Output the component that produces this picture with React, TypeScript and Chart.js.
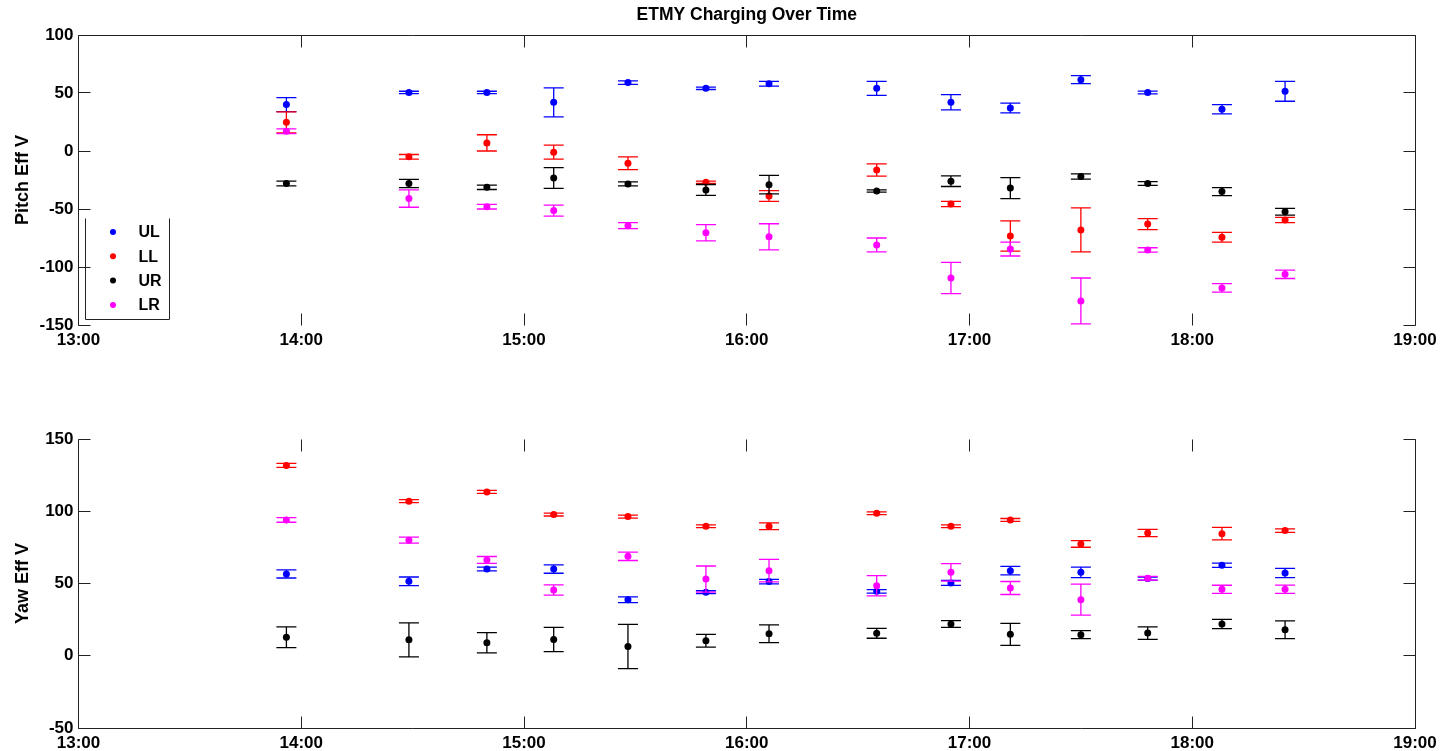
import React, { useEffect, useRef } from "react";
import { Chart, registerables } from "chart.js";

Chart.register(...registerables);

// ---------- data ----------
const times = ["13:56", "14:29", "14:50", "15:08", "15:28", "15:49", "16:06", "16:35", "16:55", "17:11", "17:30", "17:48", "18:08", "18:25"];

const seriesNames = ["UL", "LL", "UR", "LR"];
const seriesColors = ["#0000ff", "#ff0000", "#000000", "#ff00ff"];

const pitchUL = [40, 50.5, 50.5, 42, 59, 54, 58, 54, 42, 37, 61.5, 50.5, 36, 51.5];
const pitchULErr = [6, 1, 1, 12.5, 1.5, 1, 2, 6, 6.6, 4.2, 3.5, 1.2, 4, 8.6];
const pitchLL = [24.7, -5, 7, -1, -10.5, -27, -38.8, -16.4, -45.7, -73.3, -68, -63, -74.4, -59.5];
const pitchLLErr = [9, 2, 7, 6, 5.5, 1, 4.6, 5.3, 2.3, 13, 19, 4.7, 4.2, 2.3];
const pitchUR = [-28, -28, -31.3, -23.3, -28.4, -33.6, -29, -34.5, -26, -32, -22, -28, -35, -52.3];
const pitchURErr = [2, 3.6, 1.9, 9, 1.7, 4.7, 8, 1, 4.6, 9, 2.3, 1.6, 3.4, 2.9];
const pitchLR = [17, -41, -48, -51.4, -64.4, -70.4, -74, -81, -109.5, -84.5, -129.3, -85.3, -118, -106.3];
const pitchLRErr = [2, 7.5, 2, 4.7, 2.6, 7, 11.3, 6, 13.5, 6, 19.8, 1.9, 3.6, 3.6];

const yawUL = [56.6, 51.5, 60, 60, 38.8, 44, 51.3, 44.6, 50.4, 58.9, 57.7, 53.4, 62.6, 57.3];
const yawULErr = [2.8, 3, 1.3, 2.9, 2, 1, 1.5, 1.2, 1.7, 2.9, 3.7, 1, 1.5, 3.2];
const yawLL = [131.7, 107, 113.4, 97.7, 96.3, 89.6, 89.6, 98.6, 89.6, 94, 77.4, 85, 84.5, 86.6];
const yawLLErr = [1.4, 1, 1, 1, 1, 1, 2.3, 1, 1, 1, 2.3, 2.5, 4.3, 1.2];
const yawUR = [12.8, 11, 9, 11.2, 6.4, 10.4, 15.2, 15.5, 22, 14.8, 14.6, 15.7, 22, 18];
const yawURErr = [7.2, 11.8, 7, 8.4, 15.3, 4.4, 6.1, 3.4, 2.3, 7.6, 2.8, 4.3, 3.2, 6.1];
const yawLR = [94, 80, 66.3, 45.5, 68.8, 53.1, 58.9, 48.5, 57.7, 46.9, 38.8, 53.6, 46, 46];
const yawLRErr = [1.6, 2.1, 2.4, 3.5, 2.9, 9, 7.8, 7, 6, 4.5, 10.7, 1.3, 2.8, 2.9];

const xMin = 13;
const xMax = 19;
const pitchRange = [-150, 100];
const yawRange = [-50, 150];

const chartTitle = "ETMY Charging Over Time";
const pitchLabel = "Pitch Eff V";
const yawLabel = "Yaw Eff V";

// ---------- helpers ----------
const FONT = "'Liberation Sans', Helvetica, Arial, sans-serif";
const toHours = (s: string) => {
  const [h, m] = s.split(":").map(Number);
  return h + m / 60;
};
const hourLabel = (v: number) => `${v}:00`;

const errorBarPlugin = {
  id: "errorBars",
  beforeDatasetDraw(chart: any, args: any) {
    const ds = chart.data.datasets[args.index];
    const errs: number[] = ds.errors;
    if (!errs) return;
    const yScale = chart.scales.y;
    const ctx = chart.ctx;
    ctx.save();
    ctx.strokeStyle = ds.backgroundColor;
    ctx.lineWidth = 1.3;
    const cap = 10;
    args.meta.data.forEach((pt: any, i: number) => {
      const v = ds.data[i].y;
      const e = errs[i];
      const x = pt.x;
      const yTop = yScale.getPixelForValue(v + e);
      const yBot = yScale.getPixelForValue(v - e);
      ctx.beginPath();
      ctx.moveTo(x, yTop);
      ctx.lineTo(x, yBot);
      ctx.moveTo(x - cap, yTop);
      ctx.lineTo(x + cap, yTop);
      ctx.moveTo(x - cap, yBot);
      ctx.lineTo(x + cap, yBot);
      ctx.stroke();
    });
    ctx.restore();
  },
};

const framePlugin = {
  id: "frame",
  afterDraw(chart: any, _args: any, opts: any) {
    const { ctx, chartArea } = chart;
    const { left, right, top, bottom } = chartArea;
    const L = Math.floor(left) + 0.5;
    const R = Math.floor(right) + 0.5;
    const T = Math.floor(top) + 0.5;
    const B = Math.floor(bottom) + 0.5;
    ctx.save();
    ctx.strokeStyle = "#222";
    ctx.lineWidth = 1;
    ctx.beginPath();
    if (opts.top) { ctx.moveTo(L, T); ctx.lineTo(R, T); }
    if (opts.bottom) { ctx.moveTo(L, B); ctx.lineTo(R, B); }
    if (opts.left) { ctx.moveTo(L, T); ctx.lineTo(L, B); }
    if (opts.right) { ctx.moveTo(R, T); ctx.lineTo(R, B); }
    const tl = 12;
    const xs = chart.scales.x;
    xs.ticks.forEach((t: any) => {
      const x = Math.floor(xs.getPixelForValue(t.value)) + 0.5;
      ctx.moveTo(x, T); ctx.lineTo(x, T + tl);
      ctx.moveTo(x, B); ctx.lineTo(x, B - tl);
    });
    const ys = chart.scales.y;
    ys.ticks.forEach((t: any) => {
      const y = Math.floor(ys.getPixelForValue(t.value)) + 0.5;
      ctx.moveTo(L, y); ctx.lineTo(L + tl, y);
      ctx.moveTo(R, y); ctx.lineTo(R - tl, y);
    });
    ctx.stroke();
    ctx.restore();
  },
};

const legendBoxPlugin = {
  id: "legendBox",
  afterDraw(chart: any, _args: any, opts: any) {
    if (!opts.show) return;
    const { ctx, chartArea } = chart;
    const x0 = Math.floor(chartArea.left + 7) + 0.5;
    const x1 = x0 + 84;
    const y1 = Math.floor(chartArea.bottom - 6) + 0.5;
    const y0 = y1 - 101;
    ctx.save();
    ctx.strokeStyle = "#222";
    ctx.lineWidth = 1;
    ctx.beginPath();
    ctx.moveTo(x0, y0); ctx.lineTo(x0, y1); ctx.lineTo(x1, y1); ctx.lineTo(x1, y0);
    ctx.stroke();
    ctx.font = `bold 16px ${FONT}`;
    ctx.textBaseline = "middle";
    ctx.textAlign = "left";
    seriesNames.forEach((name, i) => {
      const cy = y0 + 13.5 + i * 24.3;
      ctx.fillStyle = seriesColors[i];
      ctx.beginPath();
      ctx.arc(x0 + 27.5, cy, 3, 0, Math.PI * 2);
      ctx.fill();
      ctx.fillStyle = "#000";
      ctx.fillText(name, x0 + 53, cy + 1);
    });
    ctx.restore();
  },
};

function buildDatasets(values: number[][], errors: number[][]) {
  const xs = times.map(toHours);
  return seriesNames.map((name, i) => ({
    label: name,
    data: xs.map((x, j) => ({ x, y: values[i][j] })),
    errors: errors[i],
    backgroundColor: seriesColors[i],
    borderColor: seriesColors[i],
    pointRadius: 3.5,
    pointBorderWidth: 0,
    showLine: false,
    order: seriesNames.length - i,
  }));
}

function buildConfig(kind: "pitch" | "yaw"): any {
  const isPitch = kind === "pitch";
  const values = isPitch ? [pitchUL, pitchLL, pitchUR, pitchLR] : [yawUL, yawLL, yawUR, yawLR];
  const errors = isPitch ? [pitchULErr, pitchLLErr, pitchURErr, pitchLRErr] : [yawULErr, yawLLErr, yawURErr, yawLRErr];
  const range = isPitch ? pitchRange : yawRange;
  const tickFont = { family: FONT, size: 17, weight: "bold" };
  return {
    type: "scatter",
    data: { datasets: buildDatasets(values, errors) },
    options: {
      animation: false,
      responsive: false,
      events: [],
      layout: { padding: { left: 0, right: 25, top: isPitch ? 0 : 64, bottom: 0 } },
      plugins: {
        legend: { display: false },
        tooltip: { enabled: false },
        title: {
          display: isPitch,
          text: chartTitle,
          fullSize: false,
          color: "#000",
          font: { family: FONT, size: 17.5, weight: "bold" },
          padding: { top: 4.5, bottom: 9.5 },
        },
        frame: isPitch
          ? { top: true, bottom: false, left: true, right: true }
          : { top: false, bottom: true, left: true, right: true },
        legendBox: { show: isPitch },
      },
      scales: {
        x: {
          type: "linear",
          min: xMin,
          max: xMax,
          grid: { display: false, drawTicks: false, tickLength: 0 },
          border: { display: false },
          ticks: {
            stepSize: 1,
            autoSkip: false,
            maxRotation: 0,
            color: "#000",
            font: tickFont,
            padding: 5,
            callback: (v: number) => hourLabel(v),
          },
          afterFit: (s: any) => {
            s.height = isPitch ? 50 : 23;
            s.paddingLeft = 0;
            s.paddingRight = 0;
          },
        },
        y: {
          type: "linear",
          min: range[0],
          max: range[1],
          grid: { display: false, drawTicks: false, tickLength: 0 },
          border: { display: false },
          ticks: { stepSize: 50, color: "#000", font: tickFont, padding: 5 },
          title: {
            display: true,
            text: isPitch ? pitchLabel : yawLabel,
            color: "#000",
            font: { family: FONT, size: 18, weight: "bold" },
            padding: { top: 12.5, bottom: 0 },
          },
          afterFit: (s: any) => {
            s.width = 78.5;
          },
        },
      },
    },
    plugins: [errorBarPlugin, framePlugin, legendBoxPlugin],
  };
}

function ChartCanvas({ kind, top, height }: { kind: "pitch" | "yaw"; top: number; height: number }) {
  const ref = useRef<HTMLCanvasElement | null>(null);
  useEffect(() => {
    if (!ref.current) return;
    const chart = new Chart(ref.current, buildConfig(kind));
    return () => chart.destroy();
  }, [kind]);
  return (
    <canvas
      ref={ref}
      width={1440}
      height={height}
      style={{ position: "absolute", left: 0, top, width: 1440, height }}
    />
  );
}

export default function App() {
  return (
    <div style={{ position: "fixed", left: 0, top: 0, width: 1440, height: 751, background: "#fff" }}>
      <ChartCanvas kind="pitch" top={0} height={375} />
      <ChartCanvas kind="yaw" top={375} height={376} />
    </div>
  );
}
